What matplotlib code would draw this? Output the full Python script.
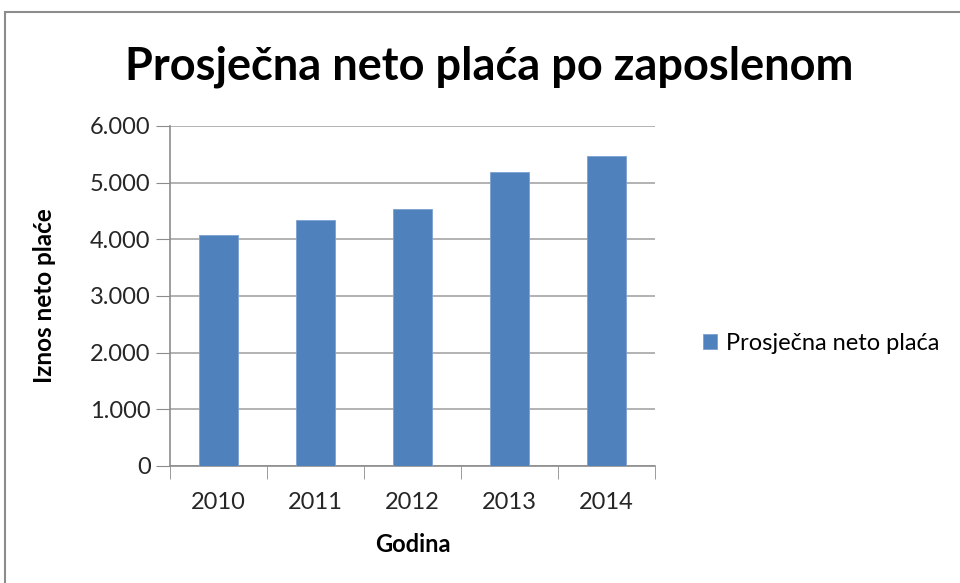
import matplotlib
matplotlib.use("Agg")
import matplotlib.pyplot as plt
from matplotlib.ticker import FuncFormatter, FixedLocator
from matplotlib.patches import Rectangle

years = ["2010", "2011", "2012", "2013", "2014"]
values = [4070, 4340, 4540, 5190, 5470]
series_name = "Prosječna neto plaća"
title = "Prosječna neto plaća po zaposlenom"
xlabel = "Godina"
ylabel = "Iznos neto plaće"

plt.rcParams['font.family'] = ['Lato', 'DejaVu Sans']

W, H = 960, 583
fig = plt.figure(figsize=(W/100, H/100), dpi=100)
fig.patches.append(Rectangle((5/W, -0.01), 1.0, 1 - 12/H + 0.01, transform=fig.transFigure,
                             fill=False, edgecolor='#8c8c8c', linewidth=1.5))

ax = fig.add_axes([170/W, 1 - 466/H, (655-170)/W, (466-126)/H])
x = list(range(len(years)))
ax.bar(x, values, width=0.4, color='#4f81bd', edgecolor='#7da0d0', linewidth=0.6, zorder=3,
       label=series_name)
ax.set_xlim(-0.5, len(years) - 0.5)
ax.set_ylim(0, 6000)
ax.set_yticks(range(0, 6001, 1000))
ax.yaxis.set_major_formatter(FuncFormatter(lambda v, p: f"{int(v):,}".replace(",", ".")))
ax.set_xticks(x)
ax.set_xticklabels(years)
ax.xaxis.set_minor_locator(FixedLocator([i - 0.5 for i in range(len(years) + 1)]))
ax.tick_params(axis='x', which='major', length=0, labelsize=17, colors='#262626', pad=19)
ax.tick_params(axis='x', which='minor', length=9, color='#8c8c8c', direction='out')
ax.tick_params(axis='y', length=10, color='#8c8c8c', labelsize=17, labelcolor='#262626', pad=4)
ax.grid(axis='y', color='#a6a6a6', linewidth=1.2, zorder=0)
for s in ['top', 'right']:
    ax.spines[s].set_visible(False)
for s in ['left', 'bottom']:
    ax.spines[s].set_color('#8c8c8c')
    ax.spines[s].set_linewidth(1.2)

ax.set_xlabel(xlabel, fontsize=17, fontweight='bold', labelpad=14)
ax.set_ylabel(ylabel, fontsize=17.5, fontweight='bold', labelpad=24)

fig.text(489/W, 1 - 67/H, title, fontsize=32.5, fontweight='bold', ha='center', va='center')

leg = ax.legend(loc='center left', bbox_to_anchor=(682/W, 1 - 343/H), bbox_transform=fig.transFigure,
                frameon=False, fontsize=17, handlelength=0.6, handleheight=0.6, handletextpad=0.35)

fig.savefig("out.png", dpi=100)
